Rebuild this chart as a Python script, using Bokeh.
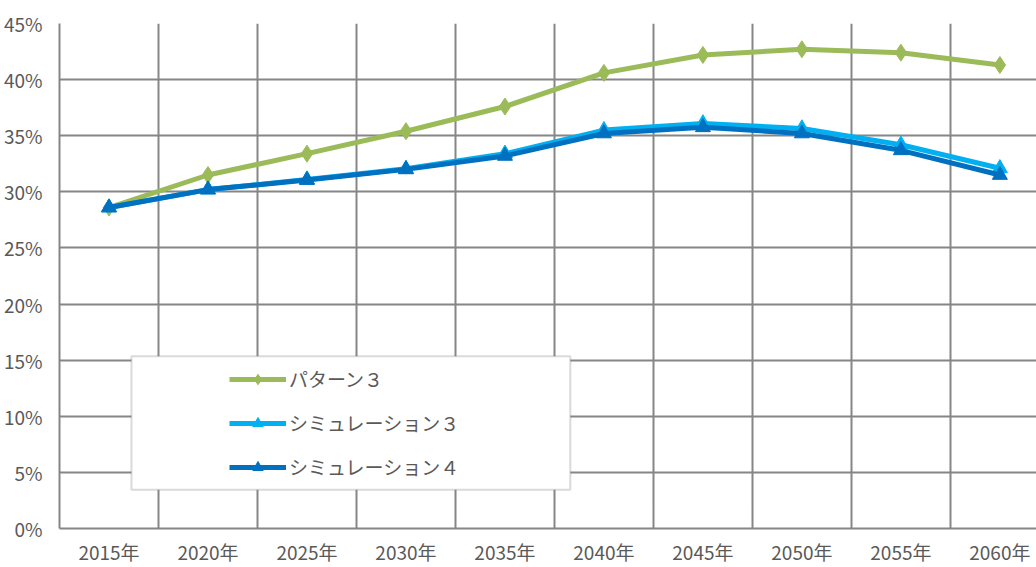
from bokeh.plotting import figure
from bokeh.models import (FixedTicker, PrintfTickFormatter, Legend, LegendItem,
                          BoxAnnotation, Range1d)
from bokeh.embed import file_html
from bokeh.resources import INLINE

years = ["2015年", "2020年", "2025年", "2030年", "2035年",
         "2040年", "2045年", "2050年", "2055年", "2060年"]
pattern3 = [28.6, 31.5, 33.4, 35.4, 37.6, 40.6, 42.2, 42.7, 42.4, 41.3]
sim3 = [28.6, 30.2, 31.1, 32.05, 33.4, 35.5, 36.1, 35.65, 34.2, 32.1]
sim4 = [28.6, 30.2, 31.05, 32.0, 33.2, 35.2, 35.75, 35.2, 33.7, 31.5]
series_names = ["パターン３", "シミュレーション３", "シミュレーション４"]
y_ticks = [0, 5, 10, 15, 20, 25, 30, 35, 40, 45]

GREEN = "#9BBB59"
LBLUE = "#00B0F0"
DBLUE = "#0070C0"
GRID = "#868686"
TXT = "#595959"
FONT = "Noto Sans CJK JP"

xs = [i + 0.5 for i in range(len(years))]

p = figure(width=1036, height=567, output_backend="svg", toolbar_location=None,
           x_range=Range1d(0, 9.87), y_range=Range1d(0, 45),
           min_border_left=59, min_border_right=0, min_border_top=23,
           min_border_bottom=37)
p.outline_line_color = None
p.background_fill_color = "white"
p.border_fill_color = "white"

# axes
p.xaxis.ticker = FixedTicker(ticks=xs)
p.xaxis.major_label_overrides = {x: y for x, y in zip(xs, years)}
p.xaxis.major_tick_line_color = None
p.xaxis.minor_tick_line_color = None
p.xaxis.major_tick_out = 0
p.xaxis.major_tick_in = 0
p.xaxis.major_label_standoff = 9
p.yaxis.ticker = FixedTicker(ticks=y_ticks)
p.yaxis.formatter = PrintfTickFormatter(format="%d%%")
p.yaxis.major_tick_line_color = None
p.yaxis.minor_tick_line_color = None
p.yaxis.major_tick_out = 0
p.yaxis.major_tick_in = 0
p.yaxis.major_label_standoff = 17
for ax in (p.xaxis[0], p.yaxis[0]):
    ax.axis_line_color = GRID
    ax.axis_line_width = 2
    ax.major_label_text_font = FONT
    ax.major_label_text_font_size = "19px"
    ax.major_label_text_color = TXT

p.xgrid.ticker = FixedTicker(ticks=list(range(1, 10)))
p.ygrid.ticker = FixedTicker(ticks=y_ticks[1:])
for g in (p.xgrid[0], p.ygrid[0]):
    g.grid_line_color = GRID
    g.grid_line_width = 2
    g.grid_line_alpha = 1

# series
items = []
specs = [(pattern3, GREEN, "diamond", 17), (sim3, LBLUE, "triangle", 15),
         (sim4, DBLUE, "triangle", 15)]
for name, (vals, col, mk, sz) in zip(series_names, specs):
    ln = p.line(xs, vals, line_color=col, line_width=5)
    sc = p.scatter(xs, vals, marker=mk, size=sz, fill_color=col, line_color=col)
    items.append(LegendItem(label=name, renderers=[ln, sc]))

box = BoxAnnotation(left=0.727, right=5.16, bottom=3.46, top=15.35,
                    fill_color="white", fill_alpha=1, line_color=GRID,
                    line_width=2)
p.add_layout(box)

legend = Legend(items=items, location=(170, 48), orientation="vertical",
                glyph_width=57, glyph_height=26, label_height=26,
                label_standoff=3, spacing=17, padding=0, margin=0,
                border_line_alpha=0, background_fill_alpha=0,
                label_text_font=FONT, label_text_font_size="19px",
                label_text_color=TXT)
p.add_layout(legend)

open("out.html", "w").write(file_html(p, INLINE))
